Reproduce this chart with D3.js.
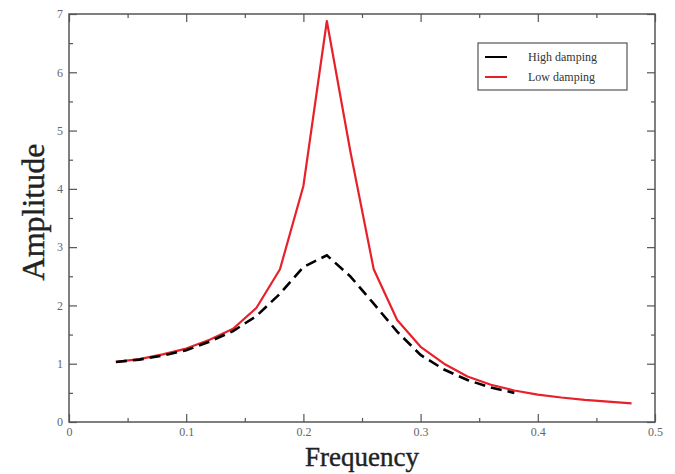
<!DOCTYPE html>
<html><head><meta charset="utf-8">
<script src="https://cdn.jsdelivr.net/npm/d3@7"></script>
<style>body{margin:0;background:#fff}svg{display:block}text{font-family:"Liberation Serif","Times New Roman",serif}</style>
</head><body><svg id="c" width="675" height="474"></svg>
<script>
const freqHigh = [0.04,0.06,0.08,0.10,0.12,0.14,0.16,0.18,0.20,0.22,0.24,0.26,0.28,0.30,0.32,0.34,0.36,0.38];
const ampHigh  = [1.03,1.07,1.14,1.23,1.38,1.56,1.82,2.20,2.66,2.86,2.50,2.03,1.55,1.15,0.90,0.72,0.59,0.50];
const freqLow = [0.04,0.06,0.08,0.10,0.12,0.14,0.16,0.18,0.20,0.22,0.24,0.26,0.28,0.30,0.32,0.34,0.36,0.38,0.40,0.42,0.44,0.46,0.48];
const ampLow  = [1.03,1.08,1.16,1.26,1.41,1.60,1.96,2.62,4.05,6.88,4.65,2.62,1.75,1.29,1.00,0.78,0.64,0.54,0.47,0.42,0.38,0.35,0.32];
const xTicks = [0,0.1,0.2,0.3,0.4,0.5];
const xTickLabels = ["0","0.1","0.2","0.3","0.4","0.5"];
const yTicks = [0,1,2,3,4,5,6,7];
const yTickLabels = ["0","1","2","3","4","5","6","7"];
const seriesNames = ["High damping","Low damping"];
const seriesColors = ["#000000","#e8202a"];

const svg = d3.select("#c");
const L=69,R=655,T=14,B=422;
const x = d3.scaleLinear().domain([0,0.5]).range([L,R]);
const y = d3.scaleLinear().domain([0,7]).range([B,T]);

const g = svg.append("g");
const xMinor = d3.range(0.05,0.5,0.1);
const yMinor = d3.range(0.5,7,1);

function axisStyle(sel){
  sel.select(".domain").remove();
  sel.selectAll("line").attr("stroke","#555").attr("stroke-width",1.2);
  sel.selectAll("text").attr("fill","#666").attr("font-size",12);
}
// bottom
g.append("g").attr("transform",`translate(0,${B})`)
  .call(d3.axisBottom(x).tickValues(xTicks).tickFormat((d,i)=>xTickLabels[i]).tickSizeInner(-8).tickSizeOuter(0).tickPadding(5))
  .call(axisStyle);
g.append("g").attr("transform",`translate(0,${B})`)
  .call(d3.axisBottom(x).tickValues(xMinor).tickFormat("").tickSizeInner(-4).tickSizeOuter(0)).call(axisStyle);
// top
g.append("g").attr("transform",`translate(0,${T})`)
  .call(d3.axisTop(x).tickValues(xTicks).tickFormat("").tickSizeInner(-8).tickSizeOuter(0)).call(axisStyle);
g.append("g").attr("transform",`translate(0,${T})`)
  .call(d3.axisTop(x).tickValues(xMinor).tickFormat("").tickSizeInner(-4).tickSizeOuter(0)).call(axisStyle);
// left
g.append("g").attr("transform",`translate(${L},0)`)
  .call(d3.axisLeft(y).tickValues(yTicks).tickFormat((d,i)=>yTickLabels[i]).tickSizeInner(-8).tickSizeOuter(0).tickPadding(6))
  .call(axisStyle);
g.append("g").attr("transform",`translate(${L},0)`)
  .call(d3.axisLeft(y).tickValues(yMinor).tickFormat("").tickSizeInner(-4).tickSizeOuter(0)).call(axisStyle);
// right
g.append("g").attr("transform",`translate(${R},0)`)
  .call(d3.axisRight(y).tickValues(yTicks).tickFormat("").tickSizeInner(-8).tickSizeOuter(0)).call(axisStyle);
g.append("g").attr("transform",`translate(${R},0)`)
  .call(d3.axisRight(y).tickValues(yMinor).tickFormat("").tickSizeInner(-4).tickSizeOuter(0)).call(axisStyle);

svg.append("rect").attr("x",L).attr("y",T).attr("width",R-L).attr("height",B-T)
  .attr("fill","none").attr("stroke","#555").attr("stroke-width",1.5);

const line = d3.line().x(d=>x(d[0])).y(d=>y(d[1]));
svg.append("path").datum(d3.zip(freqLow,ampLow)).attr("d",line)
  .attr("fill","none").attr("stroke",seriesColors[1]).attr("stroke-width",2.2).attr("stroke-linejoin","round");
svg.append("path").datum(d3.zip(freqHigh,ampHigh)).attr("d",line)
  .attr("fill","none").attr("stroke",seriesColors[0]).attr("stroke-width",2.6).attr("stroke-dasharray","11,6");

// legend
const lg = svg.append("g");
lg.append("rect").attr("x",478).attr("y",43).attr("width",149).attr("height",47)
  .attr("fill","#fff").attr("stroke","#555").attr("stroke-width",1.2);
seriesNames.forEach((n,i)=>{
  const yy = 57 + i*20;
  lg.append("line").attr("x1",485).attr("x2",507).attr("y1",yy).attr("y2",yy)
    .attr("stroke",seriesColors[i]).attr("stroke-width",2);
  lg.append("text").attr("x",528).attr("y",yy+4).attr("font-size",12).attr("fill","#333").text(n);
});

// axis titles
svg.append("text").attr("x",362).attr("y",466).attr("text-anchor","middle")
  .attr("font-size",27).attr("fill","#222").attr("stroke","#222").attr("stroke-width",0.4).text("Frequency");
svg.append("text").attr("transform",`translate(44,212) rotate(-90)`).attr("text-anchor","middle")
  .attr("font-size",32).attr("fill","#222").attr("stroke","#222").attr("stroke-width",0.4).text("Amplitude");
</script></body></html>
